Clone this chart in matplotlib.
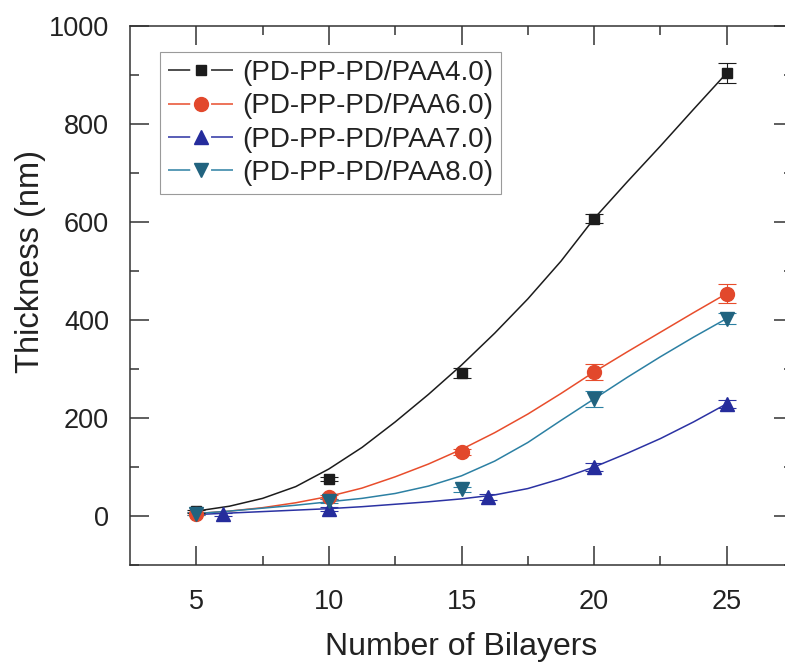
import numpy as np
import matplotlib
matplotlib.use("Agg")
import matplotlib.pyplot as plt
from matplotlib.lines import Line2D

plt.rcParams['font.family'] = ['Liberation Sans', 'DejaVu Sans']
plt.rcParams['lines.scale_dashes'] = False

# measured thickness (symbols with error bars)
labels = ["(PD-PP-PD/PAA4.0)", "(PD-PP-PD/PAA6.0)",
          "(PD-PP-PD/PAA7.0)", "(PD-PP-PD/PAA8.0)"]

x_ph4 = [5, 10, 15, 20, 25]
y_ph4 = [10, 76, 292, 607, 904]
e_ph4 = [3, 4, 11, 10, 20]

x_ph6 = [5, 10, 15, 20, 25]
y_ph6 = [5, 38, 131, 294, 454]
e_ph6 = [3, 4, 6, 17, 20]

x_ph7 = [6, 10, 16, 20, 25]
y_ph7 = [4, 14, 39, 100, 229]
e_ph7 = [3, 4, 6, 8, 8]

x_ph8 = [5, 10, 15, 20, 25]
y_ph8 = [5, 31, 55, 239, 403]
e_ph8 = [3, 4, 5, 16, 11]

# fitted curves
x_fit = [5, 6.25, 7.5, 8.75, 10, 11.25, 12.5, 13.75, 15, 16.25, 17.5,
         18.75, 20, 21.25, 22.5, 23.75, 25]
fit_ph4 = [10, 20, 36, 60, 96, 140, 192, 248, 308, 373, 443, 520, 607,
           682, 755, 830, 904]
fit_ph6 = [5, 10, 17, 27, 40, 57, 80, 106, 136, 170, 208, 250, 294,
           335, 375, 415, 454]
fit_ph7 = [3, 6, 9, 12, 15, 19, 24, 29, 35, 43, 56, 76, 100, 128, 158,
           192, 229]
fit_ph8 = [5, 10, 16, 22, 29, 36, 46, 61, 82, 112, 150, 195, 239, 283,
           325, 365, 403]

colors = ["#1c1c1c", "#e84d2c", "#2b32a3", "#2c80a3"]
mcolors = ["#1c1c1c", "#e2482c", "#252c9c", "#21637f"]
markers = ["s", "o", "^", "v"]
msizes = [7, 10, 10, 10]

fig = plt.figure(figsize=(7.85, 6.63), dpi=100)
ax = fig.add_axes([0.1656, 0.1478, 0.8446, 0.813])

series = [(x_ph4, y_ph4, e_ph4, fit_ph4),
          (x_ph6, y_ph6, e_ph6, fit_ph6),
          (x_ph7, y_ph7, e_ph7, fit_ph7),
          (x_ph8, y_ph8, e_ph8, fit_ph8)]

handles = []
for i, (xs, ys, es, fit) in enumerate(series):
    ax.plot(x_fit, fit, color=colors[i], lw=1.1, zorder=2)
    ax.errorbar(xs, ys, yerr=es, fmt=markers[i], color=mcolors[i],
                ms=msizes[i], mec=mcolors[i], ecolor=colors[i],
                elinewidth=0.8, capsize=6.5, capthick=0.8, zorder=3)
    handles.append(Line2D([], [], color=colors[i], lw=1.1,
                          dashes=(16, 15), marker=markers[i],
                          ms=msizes[i], mfc=mcolors[i], mec=mcolors[i]))

ax.set_xlim(2.5, 27.5)
ax.set_ylim(-100, 1000)
ax.set_xticks([5, 10, 15, 20, 25])
ax.set_xticks([7.5, 12.5, 17.5, 22.5], minor=True)
ax.set_yticks([0, 200, 400, 600, 800, 1000])
ax.set_yticks([-100, 100, 300, 500, 700, 900], minor=True)

ax.tick_params(which='both', direction='in', top=True, right=True,
               width=1.1, color="#333333", labelcolor="#222222",
               labelsize=19.5)
ax.tick_params(which='major', length=13.5)
ax.tick_params(which='minor', length=6.5)
ax.tick_params(axis='y', pad=15)
ax.tick_params(axis='x', pad=17)
for s in ax.spines.values():
    s.set_linewidth(1.1)
    s.set_color("#333333")

ax.set_xlabel("Number of Bilayers", fontsize=23, color="#222222")
ax.xaxis.set_label_coords(0.5, -0.124)
ax.set_ylabel("Thickness (nm)", fontsize=23.5, color="#222222")
ax.yaxis.set_label_coords(-0.127, 0.564)

leg = ax.legend(handles, labels, loc='upper left',
                bbox_to_anchor=(0.045, 0.952), borderaxespad=0,
                fontsize=20, handlelength=2.35, handletextpad=0.3,
                labelspacing=0.26, borderpad=0.3, fancybox=False,
                framealpha=1, edgecolor="#9a9a9a")
leg.get_frame().set_linewidth(0.8)
for t in leg.get_texts():
    t.set_color("#222222")

fig.savefig("out.png", dpi=100)
